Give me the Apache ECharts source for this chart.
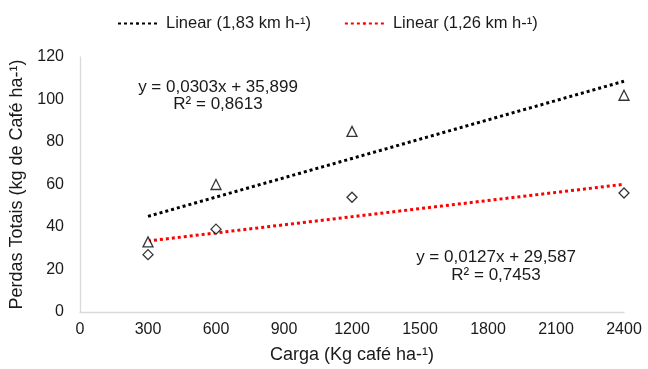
<!DOCTYPE html>
<html>
<head>
<meta charset="utf-8">
<script src="https://cdn.jsdelivr.net/npm/echarts@6/dist/echarts.min.js"></script>
<style>
  html, body { margin: 0; padding: 0; background: #fff; }
  #main { width: 648px; height: 369px; }
</style>
</head>
<body>
<div id="main"></div>
<script>
// dados
var cargas = [300, 600, 1200, 2400];
var perdas183 = [33, 60, 85, 102];
var perdas126 = [27, 39, 54, 56];
var trendX = [300, 2400];
var trend183 = [45.0, 108.6];
var trend126 = [33.4, 60.1];

var nome183 = 'Linear (1,83 km h-¹)';
var nome126 = 'Linear (1,26 km h-¹)';

function pares(xs, ys) {
  return xs.map(function (x, i) { return [x, ys[i]]; });
}

// ícone pontilhado da legenda
var dotIcon = 'path://M0,0h3v3h-3z M6,0h3v3h-3z M12,0h3v3h-3z M18,0h3v3h-3z M24,0h3v3h-3z M30,0h3v3h-3z M36,0h3v3h-3z';

var myChart = echarts.init(document.getElementById('main'));
var fonte = 'Liberation Sans, Arial, sans-serif';
var cor = '#1a1a1a';

myChart.setOption({
  animation: false,
  textStyle: { fontFamily: fonte },
  grid: { left: 80, right: 24, top: 57, bottom: 57, containLabel: false },
  legend: {
    data: [nome183, nome126],
    top: 10,
    left: 112,
    itemWidth: 39,
    itemHeight: 3,
    itemGap: 33,
    textStyle: { fontSize: 16.5, color: cor, fontFamily: fonte, padding: [0, 0, 0, 4] }
  },
  xAxis: {
    type: 'value',
    min: 0, max: 2400, interval: 300,
    name: 'Carga (Kg café ha-¹)',
    nameLocation: 'middle',
    nameGap: 34,
    nameTextStyle: { fontSize: 18, color: cor },
    axisLine: { lineStyle: { color: '#d9d9d9', width: 1.3 } },
    axisTick: { show: false },
    splitLine: { show: false },
    axisLabel: { fontSize: 16, color: cor, margin: 10, formatter: function (v) { return String(v); } }
  },
  yAxis: {
    type: 'value',
    min: 0, max: 120, interval: 20,
    name: 'Perdas Totais (kg de Café ha-¹)',
    nameLocation: 'middle',
    nameGap: 52,
    nameTextStyle: { fontSize: 18, color: cor },
    axisLine: { show: true, lineStyle: { color: '#d9d9d9', width: 1.3 } },
    axisTick: { show: false },
    splitLine: { show: false },
    axisLabel: { fontSize: 16, color: cor, margin: 16 }
  },
  series: [
    {
      name: nome183,
      type: 'line',
      data: pares(trendX, trend183),
      symbol: 'none',
      legendIcon: dotIcon,
      lineStyle: { color: '#000', width: 3, type: [3, 3] },
      itemStyle: { color: '#000' },
      z: 2
    },
    {
      name: nome126,
      type: 'line',
      data: pares(trendX, trend126),
      symbol: 'none',
      legendIcon: dotIcon,
      lineStyle: { color: '#ff0000', width: 3, type: [3, 3] },
      itemStyle: { color: '#ff0000' },
      z: 2
    },
    {
      name: '1,83',
      type: 'scatter',
      data: pares(cargas, perdas183),
      symbol: 'triangle',
      symbolSize: 10,
      itemStyle: { color: '#fff', borderColor: '#000', borderWidth: 1.3 },
      z: 3
    },
    {
      name: '1,26',
      type: 'scatter',
      data: pares(cargas, perdas126),
      symbol: 'diamond',
      symbolSize: 10,
      itemStyle: { color: '#fff', borderColor: '#000', borderWidth: 1.3 },
      z: 3
    }
  ],
  graphic: [
    { type: 'text', x: 218, y: 87, style: { text: 'y = 0,0303x + 35,899', font: '17px ' + fonte, fill: cor, textAlign: 'center', textVerticalAlign: 'middle' } },
    { type: 'text', x: 218, y: 104, style: { text: 'R² = 0,8613', font: '17px ' + fonte, fill: cor, textAlign: 'center', textVerticalAlign: 'middle' } },
    { type: 'text', x: 496, y: 257, style: { text: 'y = 0,0127x + 29,587', font: '17px ' + fonte, fill: cor, textAlign: 'center', textVerticalAlign: 'middle' } },
    { type: 'text', x: 496, y: 275, style: { text: 'R² = 0,7453', font: '17px ' + fonte, fill: cor, textAlign: 'center', textVerticalAlign: 'middle' } }
  ]
});
</script>
</body>
</html>
